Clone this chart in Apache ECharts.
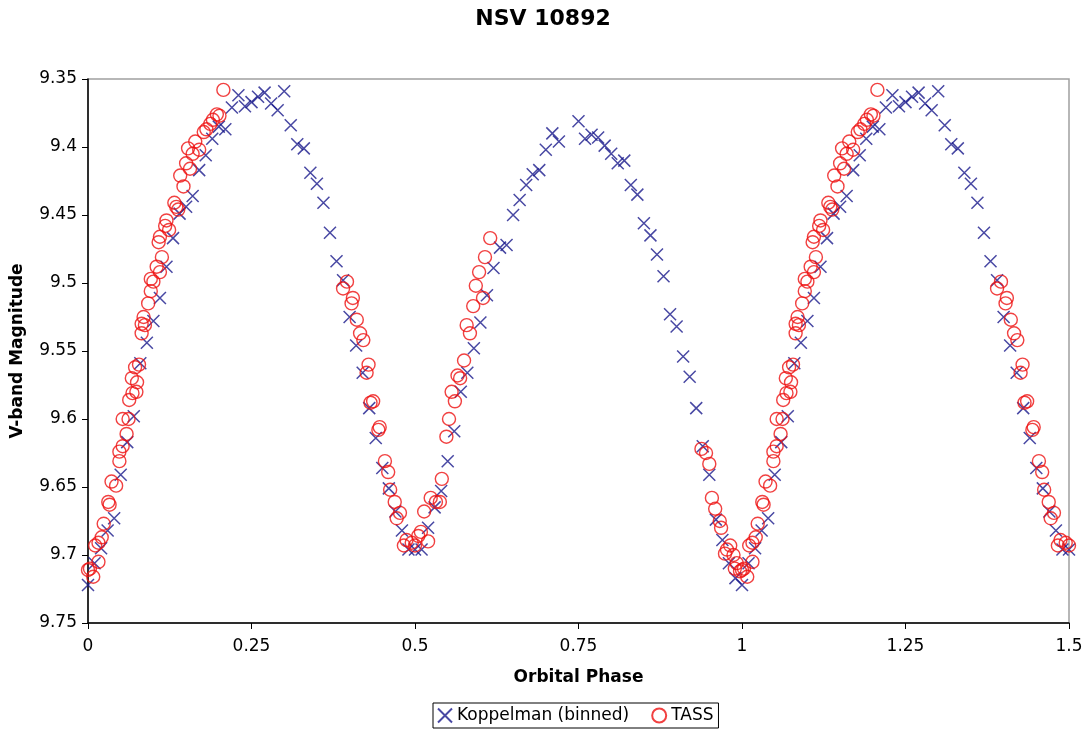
<!DOCTYPE html>
<html>
<head>
<meta charset="utf-8">
<script src="https://cdn.jsdelivr.net/npm/echarts@6/dist/echarts.min.js"></script>
<style>
  html, body { margin: 0; padding: 0; background: #fff; }
  #chart { width: 1086px; height: 736px; }
</style>
</head>
<body>
<div id="chart"></div>
<script>
// Koppelman (binned) light curve, phase 0..1 : [phase, V mag]
var kopData = [
  [0.00, 9.722], [0.01, 9.706], [0.02, 9.695], [0.03, 9.682], [0.04, 9.673],
  [0.05, 9.641], [0.06, 9.617], [0.07, 9.598], [0.08, 9.559], [0.09, 9.544],
  [0.10, 9.528], [0.11, 9.511], [0.12, 9.488], [0.13, 9.467], [0.14, 9.449],
  [0.15, 9.444], [0.16, 9.436], [0.17, 9.417], [0.18, 9.406], [0.19, 9.394],
  [0.20, 9.385], [0.21, 9.387], [0.22, 9.371], [0.23, 9.362], [0.24, 9.370],
  [0.25, 9.367], [0.26, 9.363], [0.27, 9.360], [0.28, 9.368], [0.29, 9.373],
  [0.30, 9.359], [0.31, 9.384], [0.32, 9.398], [0.33, 9.401], [0.34, 9.419],
  [0.35, 9.427], [0.36, 9.441], [0.37, 9.463], [0.38, 9.484], [0.39, 9.498],
  [0.40, 9.525], [0.41, 9.546], [0.42, 9.566], [0.43, 9.592], [0.44, 9.614],
  [0.45, 9.636], [0.46, 9.651], [0.47, 9.668], [0.48, 9.682], [0.49, 9.696],
  [0.50, 9.696], [0.51, 9.696], [0.52, 9.680], [0.53, 9.665], [0.54, 9.653],
  [0.55, 9.631], [0.56, 9.609], [0.57, 9.580], [0.58, 9.566], [0.59, 9.548],
  [0.60, 9.529], [0.61, 9.509], [0.62, 9.489], [0.63, 9.474], [0.64, 9.472],
  [0.65, 9.450], [0.66, 9.439], [0.67, 9.428], [0.68, 9.420], [0.69, 9.417],
  [0.70, 9.402], [0.71, 9.390], [0.72, 9.396], [0.75, 9.381], [0.76, 9.394],
  [0.77, 9.391], [0.78, 9.393], [0.79, 9.399], [0.80, 9.405], [0.81, 9.412],
  [0.82, 9.410], [0.83, 9.428], [0.84, 9.435], [0.85, 9.456], [0.86, 9.465],
  [0.87, 9.479], [0.88, 9.495], [0.89, 9.523], [0.90, 9.532], [0.91, 9.554],
  [0.92, 9.569], [0.93, 9.592], [0.94, 9.620], [0.95, 9.641], [0.96, 9.674],
  [0.97, 9.689], [0.98, 9.706], [0.99, 9.717]
];

// TASS photometry, phase 0..1 : [phase, V mag]
var tassData = [
  [0.000, 9.711], [0.003, 9.710], [0.008, 9.716], [0.011, 9.693], [0.016, 9.705],
  [0.016, 9.691], [0.021, 9.687], [0.024, 9.677], [0.031, 9.661], [0.033, 9.663],
  [0.036, 9.646], [0.043, 9.649], [0.048, 9.631], [0.048, 9.624], [0.053, 9.620],
  [0.059, 9.611], [0.053, 9.600], [0.062, 9.600], [0.063, 9.586], [0.068, 9.581],
  [0.074, 9.580], [0.067, 9.570], [0.075, 9.573], [0.072, 9.562], [0.078, 9.560],
  [0.082, 9.537], [0.087, 9.531], [0.082, 9.530], [0.085, 9.525], [0.092, 9.515],
  [0.096, 9.506], [0.096, 9.497], [0.100, 9.499], [0.105, 9.488], [0.110, 9.492],
  [0.113, 9.481], [0.108, 9.470], [0.110, 9.466], [0.118, 9.458], [0.120, 9.454],
  [0.124, 9.461], [0.132, 9.441], [0.135, 9.444], [0.138, 9.446], [0.141, 9.421],
  [0.146, 9.429], [0.150, 9.412], [0.156, 9.416], [0.153, 9.401], [0.160, 9.405],
  [0.164, 9.396], [0.170, 9.402], [0.177, 9.389], [0.181, 9.387], [0.187, 9.383],
  [0.191, 9.380], [0.197, 9.376], [0.201, 9.377], [0.207, 9.358],
  [0.390, 9.504], [0.396, 9.499], [0.403, 9.515], [0.405, 9.511], [0.411, 9.527],
  [0.416, 9.537], [0.421, 9.542], [0.426, 9.566], [0.429, 9.560], [0.432, 9.588],
  [0.436, 9.587], [0.444, 9.608], [0.446, 9.606], [0.454, 9.631], [0.459, 9.639],
  [0.462, 9.652], [0.469, 9.661], [0.472, 9.673], [0.477, 9.669], [0.483, 9.693],
  [0.487, 9.689], [0.495, 9.691], [0.500, 9.693], [0.505, 9.686], [0.509, 9.683],
  [0.514, 9.668], [0.520, 9.690], [0.524, 9.658], [0.532, 9.661], [0.538, 9.661],
  [0.541, 9.644], [0.548, 9.613], [0.552, 9.600], [0.556, 9.580], [0.561, 9.587],
  [0.565, 9.568], [0.569, 9.570], [0.575, 9.557], [0.579, 9.531], [0.584, 9.537],
  [0.589, 9.517], [0.593, 9.502], [0.598, 9.492], [0.604, 9.511], [0.607, 9.481],
  [0.615, 9.467],
  [0.938, 9.622], [0.945, 9.625], [0.950, 9.633], [0.954, 9.658], [0.959, 9.666],
  [0.966, 9.675], [0.968, 9.680], [0.974, 9.699], [0.977, 9.696], [0.982, 9.693],
  [0.987, 9.700], [0.989, 9.710], [0.992, 9.706], [0.997, 9.712]
];

var xTicks = [0, 0.25, 0.5, 0.75, 1, 1.25, 1.5];
var yTicks = [9.35, 9.4, 9.45, 9.5, 9.55, 9.6, 9.65, 9.7, 9.75];

// the phase plot shows 1.5 cycles, so phases up to 0.5 are drawn again one cycle later
function twoCycles(arr) {
  var out = arr.slice();
  arr.forEach(function (p) {
    if (p[0] + 1 <= 1.5) out.push([p[0] + 1, p[1]]);
  });
  return out;
}

var FONT = 'DejaVu Sans';
var crossPath = 'path://M0,0L10,10M0,10L10,0';

var myChart = echarts.init(document.getElementById('chart'));
myChart.setOption({
  animation: false,
  backgroundColor: '#fff',
  title: {
    text: 'NSV 10892',
    left: 'center',
    top: 3,
    textStyle: { fontFamily: FONT, fontSize: 22, fontWeight: 'bold', color: '#000' }
  },
  legend: {
    left: 433,
    top: 703,
    orient: 'horizontal',
    padding: [4, 5, 4, 4],
    itemGap: 22,
    itemWidth: 14,
    itemHeight: 14,
    borderColor: '#000',
    borderWidth: 1,
    textStyle: { fontFamily: FONT, fontSize: 17, color: '#000' },
    data: ['Koppelman (binned)', 'TASS']
  },
  grid: {
    left: 88,
    right: 17,
    top: 79,
    bottom: 113,
    show: true,
    borderColor: '#a0a0a0',
    borderWidth: 1.5
  },
  xAxis: {
    type: 'value',
    min: 0,
    max: 1.5,
    interval: 0.25,
    name: 'Orbital Phase',
    nameLocation: 'middle',
    nameGap: 46,
    nameTextStyle: { fontFamily: FONT, fontSize: 17, fontWeight: 'bold', color: '#000' },
    axisLine: { lineStyle: { color: '#000', width: 1.5 } },
    axisTick: { inside: false, length: 6, lineStyle: { color: '#000' } },
    axisLabel: {
      fontFamily: FONT, fontSize: 17, color: '#000', margin: 15,
      formatter: function (v) { return xTicks.indexOf(+v.toFixed(2)) >= 0 ? String(+v.toFixed(2)) : ''; }
    },
    splitLine: { show: false }
  },
  yAxis: {
    type: 'value',
    inverse: true,
    min: 9.35,
    max: 9.75,
    interval: 0.05,
    name: 'V-band Magnitude',
    nameLocation: 'middle',
    nameGap: 62,
    nameTextStyle: { fontFamily: FONT, fontSize: 17, fontWeight: 'bold', color: '#000' },
    axisLine: { show: true, lineStyle: { color: '#000', width: 1.5 } },
    axisTick: { show: true, inside: false, length: 6, lineStyle: { color: '#000' } },
    axisLabel: {
      fontFamily: FONT, fontSize: 17, color: '#000', margin: 11,
      formatter: function (v) { return yTicks.indexOf(+v.toFixed(2)) >= 0 ? String(+v.toFixed(2)) : ''; }
    },
    splitLine: { show: false }
  },
  series: [
    {
      name: 'Koppelman (binned)',
      type: 'scatter',
      symbol: crossPath,
      symbolSize: 12,
      itemStyle: { color: 'rgba(0,0,0,0)', borderColor: '#1a1a8c', borderWidth: 1.5 },
      data: twoCycles(kopData)
    },
    {
      name: 'TASS',
      type: 'scatter',
      symbol: 'circle',
      symbolSize: 13,
      itemStyle: { color: 'rgba(0,0,0,0)', borderColor: '#ee1111', borderWidth: 1.4 },
      data: twoCycles(tassData)
    }
  ]
});
</script>
</body>
</html>
